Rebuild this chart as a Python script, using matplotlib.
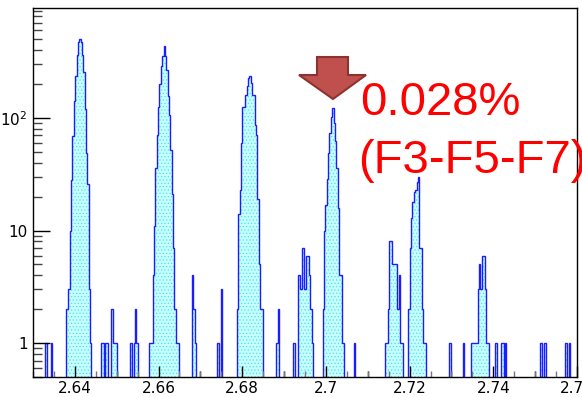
import numpy as np
import matplotlib
matplotlib.use("Agg")
import matplotlib.pyplot as plt
from matplotlib.patches import Polygon
from matplotlib.ticker import FixedLocator, FixedFormatter, LogLocator, NullFormatter, MultipleLocator

# histogram binning
x_lo, x_hi, n_bins = 2.63, 2.76, 400

# peaks: start of first bin and per-bin counts
peak_starts = [2.6378, 2.6576, 2.6788, 2.6921, 2.6992, 2.7142, 2.7197, 2.7347]
peak_counts = [
    [2, 2, 3, 10, 28, 69, 143, 234, 365, 470, 503, 470, 365, 254, 120, 49, 26, 3, 1],
    [1, 1, 1, 4, 11, 36, 71, 125, 202, 292, 358, 433, 358, 265, 158, 107, 52, 21, 7, 2, 1, 1],
    [2, 14, 23, 60, 125, 125, 161, 191, 227, 234, 205, 161, 161, 87, 70, 19, 5, 2, 2],
    [1, 1, 0, 0, 4, 3, 3, 7, 3, 3, 6, 6, 4, 2, 1],
    [2, 10, 17, 29, 49, 74, 103, 123, 90, 62, 36, 16, 4, 4, 1, 1],
    [1, 1, 2, 8, 8, 5, 5, 5, 5, 2, 4, 1, 1],
    [2, 7, 13, 18, 22, 23, 27, 30, 7, 7, 2, 1, 1],
    [1, 1, 1, 1, 1, 3, 5, 3, 6, 6, 3, 1, 1],
]

# isolated low-count entries
spike_x = [2.6331, 2.6344, 2.6464, 2.6467, 2.6474, 2.6477, 2.6487, 2.6490, 2.6493,
           2.6497, 2.6500, 2.6532, 2.6536, 2.6542, 2.6545, 2.6549, 2.6682, 2.6685,
           2.6688, 2.6740, 2.6744, 2.6750, 2.6883, 2.6887, 2.7069, 2.7296, 2.7329,
           2.7407, 2.7420, 2.7423, 2.7429, 2.7514, 2.7524, 2.7572, 2.7576, 2.7582]
spike_n = [1, 1, 1, 1, 1, 1, 2, 2, 1,
           1, 1, 1, 1, 1, 2, 1, 4, 2,
           1, 1, 1, 3, 1, 2, 1, 1, 1,
           1, 1, 1, 1, 1, 1, 1, 1, 1]

edges = np.linspace(x_lo, x_hi, n_bins + 1)
bw = edges[1] - edges[0]
counts = np.zeros(n_bins)
for start, c in zip(peak_starts, peak_counts):
    i0 = int(round((start - x_lo) / bw))
    counts[i0:i0 + len(c)] += c
idx = np.searchsorted(edges, spike_x) - 1
np.add.at(counts, idx, spike_n)

floor = 0.01
vals = np.where(counts > 0, counts, floor)

plt.rcParams['hatch.linewidth'] = 0.5
fig = plt.figure(figsize=(5.82, 3.97), dpi=100)
ax = fig.add_axes([33 / 582, 20 / 397, 544 / 582, 369 / 397])

ax.stairs(vals, edges, baseline=floor, fill=True, facecolor='#c8ffff',
          edgecolor='#48e4f0', hatch='.....', linewidth=0)
ax.stairs(vals, edges, baseline=floor, color='#1c1cff', linewidth=1.0)

ax.set_yscale('log')
ax.set_xlim(x_lo, x_hi)
ax.set_ylim(0.5, 950)

ax.yaxis.set_major_locator(FixedLocator([1, 10, 100]))
ax.yaxis.set_major_formatter(FixedFormatter(['1', '10', '$10^{2}$']))
ax.yaxis.set_minor_locator(LogLocator(base=10, subs=np.arange(2, 10)))
ax.yaxis.set_minor_formatter(NullFormatter())
ax.xaxis.set_major_locator(MultipleLocator(0.02))
ax.xaxis.set_minor_locator(MultipleLocator(0.005))
ax.xaxis.set_major_formatter(plt.FuncFormatter(lambda v, p: f"{v:g}"))

ax.tick_params(axis='y', which='major', direction='in', length=12, width=1,
               color='black', labelsize=11, pad=4)
ax.tick_params(axis='y', which='minor', direction='in', length=6.5, width=1, color='#444444')
ax.tick_params(axis='x', which='major', direction='in', length=7.7, width=1,
               color='black', labelsize=11, pad=3)
ax.tick_params(axis='x', which='minor', direction='in', length=4.5, width=1, color='#777777')

sec = ax.secondary_xaxis('bottom')
sec.xaxis.set_major_locator(FixedLocator(np.arange(2.65, 2.76, 0.02)))
sec.xaxis.set_major_formatter(NullFormatter())
sec.tick_params(direction='in', length=4.5, width=1, color='black')
sec.spines['bottom'].set_visible(False)

for s in ax.spines.values():
    s.set_linewidth(1.0)
    s.set_color('black')

# annotation arrow and label
W, H = 582, 397
arrow_px = [(317, 57), (348, 57), (348, 75), (366, 75), (333, 99), (299, 75), (317, 75)]
arrow = Polygon([(x / W, 1 - y / H) for x, y in arrow_px], closed=True,
                transform=fig.transFigure, facecolor='#c0504d', edgecolor='#8c3330',
                linewidth=1.5, zorder=5)
fig.patches.append(arrow)

fig.text(360 / W, 1 - 115 / H, '0.028%', color='#ff0000', fontsize=34,
         family='Liberation Sans', va='baseline', ha='left')
fig.text(358 / W, 1 - 173 / H, '(F3-F5-F7)', color='#ff0000', fontsize=34,
         family='Liberation Sans', va='baseline', ha='left')

fig.savefig('out.png', dpi=100)
